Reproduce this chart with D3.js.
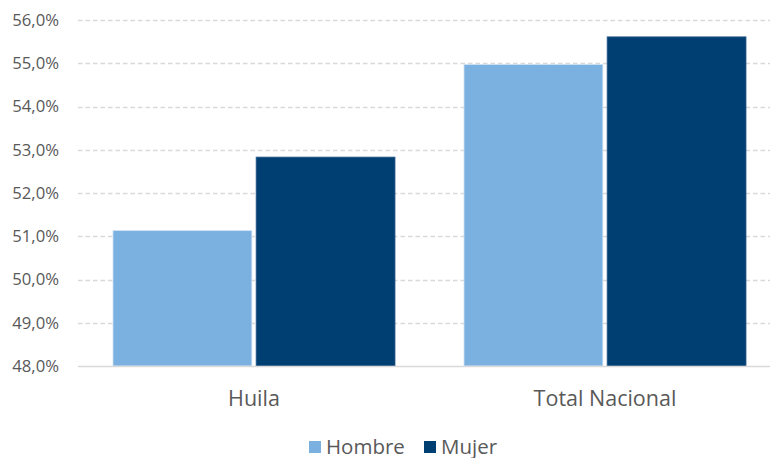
<!DOCTYPE html>
<html>
<head>
<meta charset="utf-8">
<script src="https://cdn.jsdelivr.net/npm/d3@7"></script>
<style>
  body { margin: 0; background: #fff; }
  svg text { font-family: "Open Sans", Lato, sans-serif; fill: #595959; }
</style>
</head>
<body>
<svg id="chart" width="770" height="458"></svg>
<script>
// data
var categories = ["Huila", "Total Nacional"];
var series = ["Hombre", "Mujer"];
var hombre = [51.13, 54.97];
var mujer = [52.83, 55.61];
var yTicks = [48, 49, 50, 51, 52, 53, 54, 55, 56];
var colors = ["#7AB1E1", "#003F72"];

var svg = d3.select("#chart");

var x = d3.scaleBand().domain(categories).range([78.5, 780.5]).paddingInner(0).paddingOuter(0);
var x1 = d3.scaleBand().domain(series).range([34.5, x.bandwidth() - 34.5]).paddingInner(0.03);
var y = d3.scaleLinear().domain([48, 56]).range([366, 20]);

var es = d3.formatLocale({decimal: ",", thousands: ".", grouping: [3], currency: ["", "€"]});
var fmt = function(d) { return es.format(".1f")(d) + "%"; };

// gridlines
svg.append("g").selectAll("line").data(yTicks.slice(1)).enter().append("line")
  .attr("x1", 78).attr("x2", 770)
  .attr("y1", function(d) { return Math.round(y(d)) + 0.5; })
  .attr("y2", function(d) { return Math.round(y(d)) + 0.5; })
  .style("stroke", "#d9d9d9").style("stroke-width", 1.4)
  .style("stroke-dasharray", "4.5,3");

// y axis labels
var yAxis = d3.axisLeft(y).tickValues(yTicks).tickFormat(fmt).tickSize(0).tickPadding(0);
var ga = svg.append("g").attr("transform", "translate(59,0)").call(yAxis);
ga.select(".domain").remove();
ga.selectAll("text").style("font-size", "16.7px").style("font-family", "\"Open Sans\", sans-serif").attr("fill", "#595959");

// bars
var rows = categories.map(function(c, i) { return {cat: c, vals: [hombre[i], mujer[i]]}; });
var groups = svg.append("g").selectAll("g").data(rows).enter().append("g")
  .attr("transform", function(d) { return "translate(" + x(d.cat) + ",0)"; });

groups.selectAll("rect").data(function(d) {
    return d.vals.map(function(v, j) { return {s: series[j], v: v, j: j}; });
  }).enter().append("rect")
  .attr("x", function(d) { return x1(d.s); })
  .attr("y", function(d) { return y(d.v); })
  .attr("width", x1.bandwidth())
  .attr("height", function(d) { return y(48) - y(d.v); })
  .style("fill", function(d) { return colors[d.j]; })
  .style("stroke", function(d) { return d.j == 0 ? "#cfe2f3" : "#2d5e8c"; })
  .style("stroke-width", 0.8);

// baseline
svg.append("line").attr("x1", 78).attr("x2", 770)
  .attr("y1", 366.5).attr("y2", 366.5)
  .style("stroke", "#d9d9d9").style("stroke-width", 1.4);

// category labels
svg.append("g").selectAll("text").data(categories).enter().append("text")
  .attr("x", function(d) { return x(d) + x.bandwidth() / 2; })
  .attr("y", 406)
  .attr("text-anchor", "middle")
  .style("font-size", "21.5px")
  .text(function(d) { return d; });

// legend
var legendX = [309, 424];
var lg = svg.append("g").selectAll("g").data(series).enter().append("g")
  .attr("transform", function(d, i) { return "translate(" + legendX[i] + ",441)"; });
lg.append("rect").attr("width", 12).attr("height", 12)
  .style("fill", function(d, i) { return colors[i]; });
lg.append("text").attr("x", 17).attr("y", 12.5)
  .style("font-size", "20.5px")
  .text(function(d) { return d; });
</script>
</body>
</html>
